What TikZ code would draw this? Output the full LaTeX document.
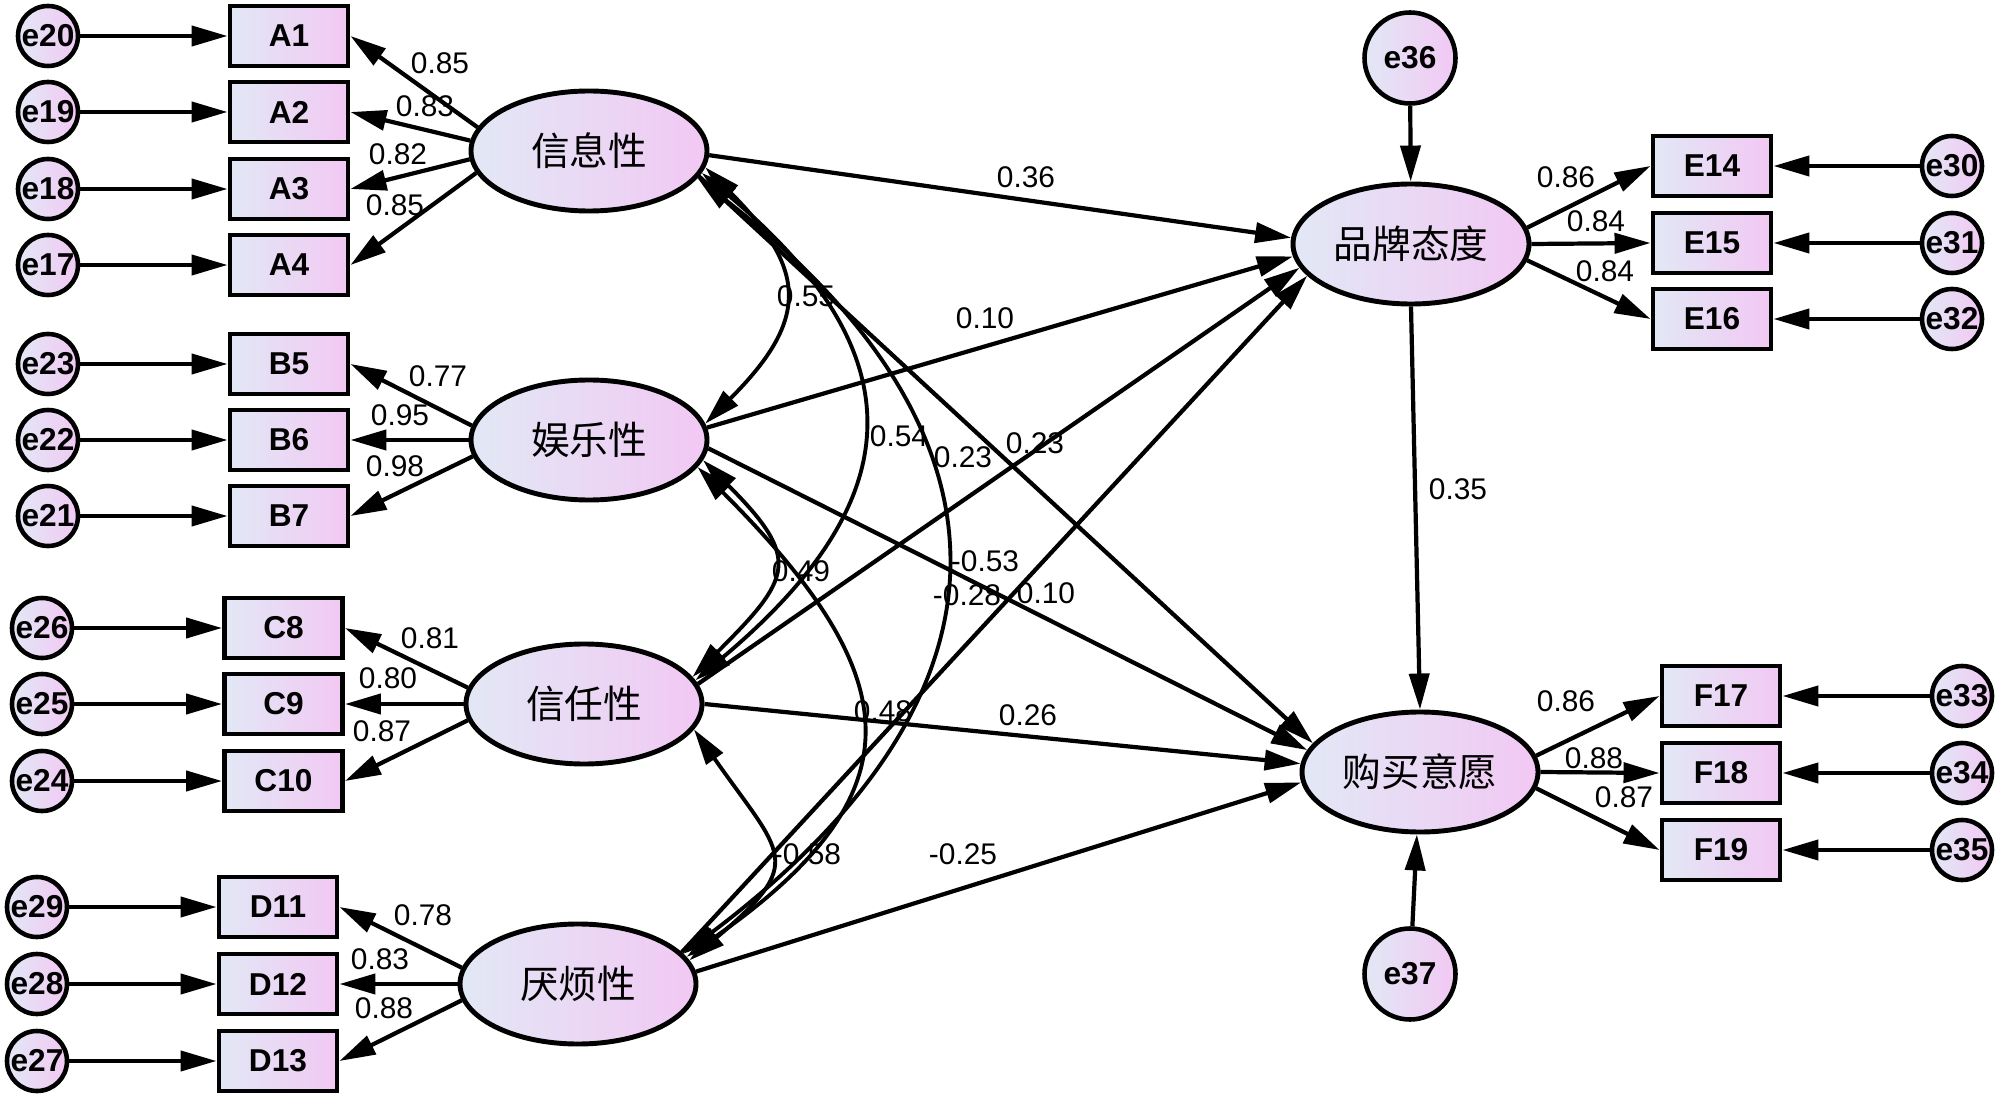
\documentclass[tikz,border=0pt]{standalone}
\usepackage{fontspec}
\setmainfont{Liberation Sans}
\newfontfamily\cjk{Noto Sans CJK SC}
\usetikzlibrary{arrows.meta,shapes.geometric}

\definecolor{shadeleft}{RGB}{226,232,245}
\definecolor{shaderight}{RGB}{242,200,244}

\tikzset{
  latent/.style={ellipse, draw, line width=1.4pt, left color=shadeleft, right color=shaderight,
    minimum width=2.36cm, minimum height=1.2cm, inner sep=0pt, font=\cjk\fontsize{11}{13}\selectfont},
  obsbox/.style={rectangle, draw, line width=1.4pt, left color=shadeleft, right color=shaderight,
    minimum width=1.18cm, minimum height=0.6cm, inner sep=0pt, font=\bfseries\fontsize{9}{10}\selectfont},
  errc/.style={circle, draw, line width=1.3pt, left color=shadeleft, right color=shaderight,
    minimum size=0.6cm, inner sep=0pt, font=\bfseries\fontsize{9}{10}\selectfont},
  errbig/.style={errc, minimum size=0.91cm},
  arr/.style={line width=1.2pt, -{Triangle[length=3.6mm,width=2mm]}},
  corr/.style={line width=1.1pt, {Triangle[length=3.6mm,width=2mm]}-{Triangle[length=3.6mm,width=2mm]}},
  coef/.style={inner sep=0pt, font=\fontsize{8.5}{10}\selectfont}
}

\begin{document}
\begin{tikzpicture}
  \useasboundingbox (0,0) rectangle (20,10.99);

  % Latent factors
  \node[latent] (xinxi)  at (5.89,9.48)  {信息性};
  \node[latent] (yule)   at (5.89,6.59)  {娱乐性};
  \node[latent] (xinren) at (5.84,3.95)  {信任性};
  \node[latent] (yanfan) at (5.78,1.15)  {厌烦性};
  \node[latent] (pinpai) at (14.11,8.55) {品牌态度};
  \node[latent] (goumai) at (14.20,3.27) {购买意愿};

  % Residuals of the outcomes
  \node[errbig] (e36) at (14.10,10.41) {e36};
  \node[errbig] (e37) at (14.10,1.25)  {e37};
  \draw[arr] (e36) -- (pinpai);
  \draw[arr] (e37) -- (goumai);

  % Indicators on the left
  \foreach \n/\e/\bx/\ex/\y/\f/\a/\lx/\ly/\v in {
      A1/e20/2.89/0.48/10.63/xinxi/168/4.40/10.36/0.85,
      A2/e19/2.89/0.48/9.87/xinxi/175/4.25/9.93/0.83,
      A3/e18/2.89/0.48/9.10/xinxi/184/3.98/9.45/0.82,
      A4/e17/2.89/0.48/8.34/xinxi/191/3.95/8.94/0.85,
      B5/e23/2.89/0.48/7.35/yule/173/4.38/7.23/0.77,
      B6/e22/2.89/0.48/6.59/yule/180/4.00/6.84/0.95,
      B7/e21/2.89/0.48/5.83/yule/188/3.95/6.33/0.98,
      C8/e26/2.835/0.42/4.71/xinren/172/4.30/4.61/0.81,
      C9/e25/2.835/0.42/3.95/xinren/180/3.88/4.21/0.80,
      C10/e24/2.835/0.42/3.18/xinren/188/3.82/3.68/0.87,
      D11/e29/2.78/0.37/1.92/yanfan/172/4.23/1.84/0.78,
      D12/e28/2.78/0.37/1.15/yanfan/180/3.80/1.40/0.83,
      D13/e27/2.78/0.37/0.38/yanfan/188/3.84/0.91/0.88} {
    \node[obsbox] (\n) at (\bx,\y) {\n};
    \node[errc] (\e) at (\ex,\y) {\e};
    \draw[arr] (\e) -- (\n.west);
    \draw[arr] (\f.\a) -- (\n.east);
    \node[coef] (l\n) at (\lx,\ly) {\v};
  }

  % Indicators on the right
  \foreach \n/\e/\bx/\ex/\y/\f/\a/\lx/\ly/\v in {
      E14/e30/17.12/19.52/9.33/pinpai/8/15.66/9.22/0.86,
      E15/e31/17.12/19.52/8.56/pinpai/0/15.96/8.78/0.84,
      E16/e32/17.12/19.52/7.80/pinpai/352/16.05/8.28/0.84,
      F17/e33/17.21/19.62/4.03/goumai/8/15.66/3.98/0.86,
      F18/e34/17.21/19.62/3.26/goumai/0/15.94/3.41/0.88,
      F19/e35/17.21/19.62/2.49/goumai/352/16.24/3.02/0.87} {
    \node[obsbox] (\n) at (\bx,\y) {\n};
    \node[errc] (\e) at (\ex,\y) {\e};
    \draw[arr] (\e) -- (\n.east);
    \draw[arr] (\f.\a) -- (\n.west);
    \node[coef] (l\n) at (\lx,\ly) {\v};
  }

  % Correlations
  \draw[corr] (xinxi.352) to[out=-45,in=45,looseness=1.46] (yule.8);
  \draw[corr] (xinxi.349) to[out=-40,in=40,looseness=1.42] (xinren.12);
  \draw[corr] (xinxi.346) to[out=-38,in=37,looseness=1.4] (yanfan.16);
  \draw[corr] (yule.350) to[out=-45,in=45,looseness=1.65] (xinren.14);
  \draw[corr] (yule.346) to[out=-45,in=35,looseness=1.52] (yanfan.14);
  \draw[corr] (xinren.347) to[out=-55,in=40,looseness=1.7] (yanfan.12);
  \node[coef] (c1) at (8.06,8.03) {0.55};
  \node[coef] (c2) at (8.99,6.63) {0.54};
  \node[coef] (c3) at (9.85,5.38) {-0.53};
  \node[coef] (c4) at (8.01,5.28) {0.49};
  \node[coef] (c5) at (8.83,3.88) {0.48};
  \node[coef] (c6) at (8.07,2.45) {-0.58};

  % Structural paths
  \draw[arr] (xinxi.358) -- (pinpai.177);
  \draw[arr] (yule.6) -- (pinpai.186);
  \draw[arr] (xinren.10) -- (pinpai.192);
  \draw[arr] (yanfan.17) -- (pinpai.197);
  \draw[arr] (xinxi.347) -- (goumai.165);
  \draw[arr] (yule.356) -- (goumai.169);
  \draw[arr] (xinren.0) -- (goumai.176);
  \draw[arr] (yanfan.6) -- (goumai.185);
  \draw[arr] (pinpai.south) -- (goumai.north);
  \node[coef] (p1) at (10.26,9.22) {0.36};
  \node[coef] (p2) at (9.85,7.81) {0.10};
  \node[coef] (p3) at (10.35,6.56) {0.23};
  \node[coef] (p4) at (10.46,5.06) {0.10};
  \node[coef] (p5) at (9.63,6.42) {0.23};
  \node[coef] (p6) at (9.67,5.04) {-0.28};
  \node[coef] (p7) at (10.28,3.84) {0.26};
  \node[coef] (p8) at (9.63,2.45) {-0.25};
  \node[coef] (p9) at (14.58,6.10) {0.35};
\end{tikzpicture}
\end{document}
